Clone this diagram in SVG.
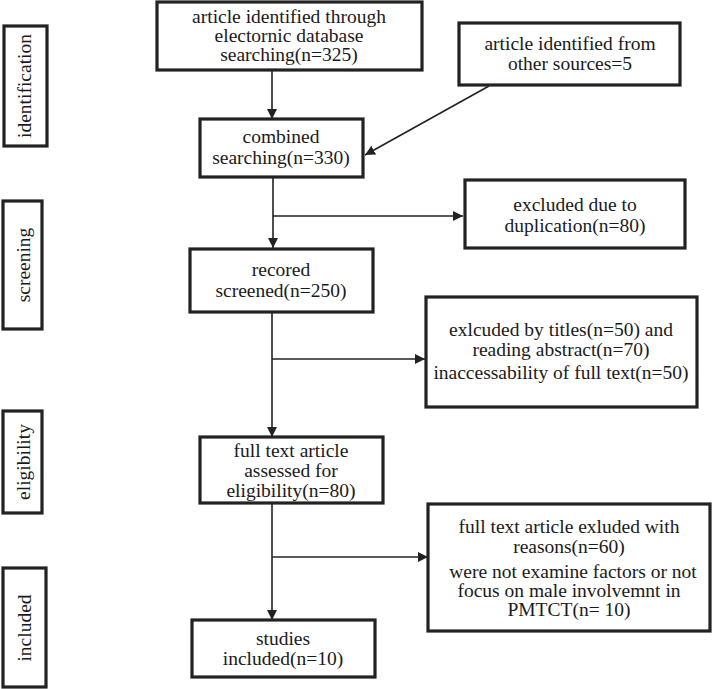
<svg xmlns="http://www.w3.org/2000/svg" width="712" height="689" viewBox="0 0 712 689">
<style>
.box{fill:#fff;stroke:#222;stroke-width:3.2}
.c{fill:none;stroke:#222;stroke-width:1.6}
</style>
<defs>
<marker id="ah" viewBox="0 0 10 10" refX="10" refY="5" markerWidth="10" markerHeight="10" markerUnits="userSpaceOnUse" orient="auto">
<path d="M0,0 L10,5 L0,10 Z" fill="#222"/>
</marker>
</defs>
<rect width="712" height="689" fill="#fff"/>
<g id="stage-identification"><rect class="box" x="4" y="26" width="43" height="120"/><text font-family="Liberation Serif" font-size="19.5" fill="#1a1a1a" text-anchor="middle" transform="translate(31,86) rotate(-90)">identification</text></g>
<g id="stage-screening"><rect class="box" x="3" y="201" width="39" height="128"/><text font-family="Liberation Serif" font-size="19.5" fill="#1a1a1a" text-anchor="middle" transform="translate(30,265) rotate(-90)">screening</text></g>
<g id="stage-eligibility"><rect class="box" x="3" y="411" width="39" height="102"/><text font-family="Liberation Serif" font-size="19.5" fill="#1a1a1a" text-anchor="middle" transform="translate(30,462) rotate(-90)">eligibility</text></g>
<g id="stage-included"><rect class="box" x="3" y="568" width="43" height="119"/><text font-family="Liberation Serif" font-size="19.5" fill="#1a1a1a" text-anchor="middle" transform="translate(31,628) rotate(-90)">included</text></g>
<g id="connectors">
<line class="c" x1="272" y1="71" x2="272" y2="119" marker-end="url(#ah)"/>
<line class="c" x1="489" y1="86" x2="365" y2="155" marker-end="url(#ah)"/>
<line class="c" x1="273" y1="178" x2="273" y2="248" marker-end="url(#ah)"/>
<line class="c" x1="273" y1="216" x2="463" y2="216" marker-end="url(#ah)"/>
<line class="c" x1="272" y1="313" x2="272" y2="437" marker-end="url(#ah)"/>
<line class="c" x1="272" y1="359" x2="425" y2="359" marker-end="url(#ah)"/>
<line class="c" x1="272" y1="504" x2="272" y2="620" marker-end="url(#ah)"/>
<line class="c" x1="272" y1="557" x2="428" y2="557" marker-end="url(#ah)"/>
</g>
<g id="n-database"><rect class="box" x="157" y="2" width="265" height="68"/><text font-family="Liberation Serif" font-size="19.5" fill="#1a1a1a" text-anchor="middle" x="289" y="23">article identified through</text><text font-family="Liberation Serif" font-size="19.5" fill="#1a1a1a" text-anchor="middle" x="289" y="42">electornic database</text><text font-family="Liberation Serif" font-size="19.5" fill="#1a1a1a" text-anchor="middle" x="289" y="61">searching(n=325)</text></g>
<g id="n-other"><rect class="box" x="459" y="23" width="221" height="62"/><text font-family="Liberation Serif" font-size="19.5" fill="#1a1a1a" text-anchor="middle" x="570" y="50">article identified from</text><text font-family="Liberation Serif" font-size="19.5" fill="#1a1a1a" text-anchor="middle" x="570" y="70">other sources=5</text></g>
<g id="n-combined"><rect class="box" x="200" y="119" width="163" height="58"/><text font-family="Liberation Serif" font-size="19.5" fill="#1a1a1a" text-anchor="middle" x="281" y="143">combined</text><text font-family="Liberation Serif" font-size="19.5" fill="#1a1a1a" text-anchor="middle" x="281" y="164">searching(n=330)</text></g>
<g id="n-duplication"><rect class="box" x="465" y="180" width="220" height="68"/><text font-family="Liberation Serif" font-size="19.5" fill="#1a1a1a" text-anchor="middle" x="575" y="211">excluded due to</text><text font-family="Liberation Serif" font-size="19.5" fill="#1a1a1a" text-anchor="middle" x="575" y="232">duplication(n=80)</text></g>
<g id="n-screened"><rect class="box" x="190" y="249" width="183" height="63"/><text font-family="Liberation Serif" font-size="19.5" fill="#1a1a1a" text-anchor="middle" x="281" y="276">recored</text><text font-family="Liberation Serif" font-size="19.5" fill="#1a1a1a" text-anchor="middle" x="281" y="297">screened(n=250)</text></g>
<g id="n-excl-titles"><rect class="box" x="426" y="297" width="271" height="110"/><text font-family="Liberation Serif" font-size="19.5" fill="#1a1a1a" text-anchor="middle" x="561" y="336">exlcuded by titles(n=50) and</text><text font-family="Liberation Serif" font-size="19.5" fill="#1a1a1a" text-anchor="middle" x="561" y="356">reading abstract(n=70)</text><text font-family="Liberation Serif" font-size="19.5" fill="#1a1a1a" text-anchor="middle" x="561" y="379">inaccessability of full text(n=50)</text></g>
<g id="n-fulltext"><rect class="box" x="200" y="437" width="183" height="66"/><text font-family="Liberation Serif" font-size="19.5" fill="#1a1a1a" text-anchor="middle" x="291" y="457">full text article</text><text font-family="Liberation Serif" font-size="19.5" fill="#1a1a1a" text-anchor="middle" x="291" y="477">assessed for</text><text font-family="Liberation Serif" font-size="19.5" fill="#1a1a1a" text-anchor="middle" x="291" y="497">eligibility(n=80)</text></g>
<g id="n-excl-reasons"><rect class="box" x="428" y="504" width="282" height="127"/><text font-family="Liberation Serif" font-size="19.5" fill="#1a1a1a" text-anchor="middle" x="569" y="533">full text article exluded with</text><text font-family="Liberation Serif" font-size="19.5" fill="#1a1a1a" text-anchor="middle" x="569" y="553">reasons(n=60)</text><text font-family="Liberation Serif" font-size="19.5" fill="#1a1a1a" text-anchor="middle" x="573" y="578">were not examine factors or not</text><text font-family="Liberation Serif" font-size="19.5" fill="#1a1a1a" text-anchor="middle" x="569" y="597">focus on male involvemnt in</text><text font-family="Liberation Serif" font-size="19.5" fill="#1a1a1a" text-anchor="middle" x="569" y="616">PMTCT(n= 10)</text></g>
<g id="n-included"><rect class="box" x="192" y="620" width="183" height="57"/><text font-family="Liberation Serif" font-size="19.5" fill="#1a1a1a" text-anchor="middle" x="283" y="645">studies</text><text font-family="Liberation Serif" font-size="19.5" fill="#1a1a1a" text-anchor="middle" x="283" y="665">included(n=10)</text></g>
</svg>
